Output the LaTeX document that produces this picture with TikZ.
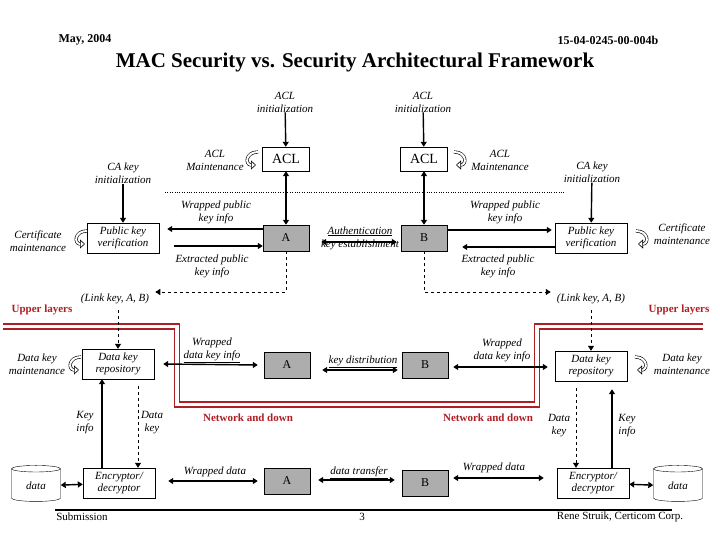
\documentclass[tikz,border=0pt]{standalone}
\usepackage{fontspec}
\setmainfont{Liberation Serif}
\usetikzlibrary{arrows.meta,shapes.geometric}
\definecolor{darkred}{RGB}{175,30,35}
\tikzset{
    box/.style={draw, rectangle, minimum width=72, minimum height=30, inner sep=1pt,
        font=\fontsize{11}{12}\selectfont\itshape, align=center},
    gbox/.style={draw, rectangle, fill=black!32, minimum width=46, minimum height=26,
        font=\fontsize{12}{12}\selectfont},
    aclbox/.style={draw, rectangle, minimum width=47, minimum height=24,
        font=\fontsize{14}{14}\selectfont},
    lbl/.style={font=\fontsize{11}{13}\selectfont\itshape, align=center, inner sep=0pt},
    redlbl/.style={font=\fontsize{11}{13}\selectfont\bfseries, text=darkred, inner sep=0pt},
    foot/.style={font=\fontsize{11}{13}\selectfont, inner sep=0pt},
    arr/.style={line width=1.4pt, -{Triangle[length=5pt,width=6pt]}},
    darr/.style={line width=1.4pt, {Triangle[length=5pt,width=6pt]}-{Triangle[length=5pt,width=6pt]}},
    dasharr/.style={line width=1pt, dashed, -{Triangle[length=5pt,width=6pt]}},
    drum/.style={draw, cylinder, shape border rotate=90, aspect=0.25,
        minimum width=49, minimum height=36, font=\fontsize{11}{12}\selectfont\itshape},
    maintL/.pic={\draw[double distance=2pt, line width=0.6pt, -{Triangle[open,length=5pt,width=9pt]}]
        (7,-7) .. controls (-6,-7) and (-6,6) .. (5,6);},
    maintR/.pic={\draw[double distance=2pt, line width=0.6pt, -{Triangle[open,length=5pt,width=9pt]}]
        (-7,-7) .. controls (6,-7) and (6,6) .. (-5,6);}
}

\begin{document}
\begin{tikzpicture}[x=1pt,y=-1pt]
    \useasboundingbox (0,0) rectangle (720,540);

    % Header and title.
    \node[font=\fontsize{12}{12}\selectfont\bfseries] (date) at (85,40) {May, 2004};
    \node[font=\fontsize{12}{12}\selectfont\bfseries] (docnum) at (608,40) {15-04-0245-00-004b};
    \node[font=\fontsize{21}{22}\selectfont\bfseries] (title) at (355,62)
        {MAC Security vs. Security Architectural Framework};

    % ACL part.
    \node[lbl] (aclinitA) at (285,102) {ACL\\initialization};
    \node[lbl] (aclinitB) at (423,102) {ACL\\initialization};
    \node[aclbox] (aclA) at (286,159) {ACL};
    \node[aclbox] (aclB) at (424,159) {ACL};
    \node[lbl] (aclmaintA) at (215,160) {ACL\\Maintenance};
    \node[lbl] (aclmaintB) at (500,160) {ACL\\Maintenance};
    \pic at (251,159) {maintL};
    \pic at (461,159) {maintR};
    \draw[arr] (aclinitA) -- (aclA);
    \draw[arr] (aclinitB) -- (aclB);
    \draw[dotted] (165,192) -- (565,192);

    % Public key part.
    \node[gbox] (keyA) at (286,238) {A};
    \node[gbox] (keyB) at (424,238) {B};
    \draw[darr] (aclA) -- (keyA);
    \draw[darr] (aclB) -- (keyB);
    \node[box] (pkA) at (123,238) {Public key\\verification};
    \node[box] (pkB) at (591,238) {Public key\\verification};
    \node[lbl] (cainitA) at (123,173) {CA key\\initialization};
    \node[lbl] (cainitB) at (592,172) {CA key\\initialization};
    \draw[arr] (cainitA) -- (pkA);
    \draw[arr] (cainitB) -- (pkB);
    \node[lbl] (certA) at (38,241) {Certificate\\maintenance};
    \node[lbl] (certB) at (682,234) {Certificate\\maintenance};
    \pic at (80,238) {maintL};
    \pic at (643,238) {maintR};
    \draw[arr] (keyA.west |- 0,229) -- ([xshift=8]pkA.east |- 0,229);
    \draw[arr] ([xshift=15]pkA.east |- 0,246) -- (keyA.west |- 0,246);
    \draw[arr] (keyB.east |- 0,230) -- ([xshift=-3]pkB.west |- 0,230);
    \draw[arr] (pkB.west |- 0,247) -- ([xshift=15]keyB.east |- 0,247);
    \node[lbl] (wpkA) at (216,212) {Wrapped public\\key info};
    \node[lbl] (epkA) at (212,266) {Extracted public\\key info};
    \node[lbl] (wpkB) at (505,212) {Wrapped public\\key info};
    \node[lbl] (epkB) at (498,266) {Extracted public\\key info};
    \node[lbl] (auth) at (360,238) {\underline{Authentication}\\key establishment};
    \draw[darr] ([xshift=12]keyA.east |- 0,242) -- ([xshift=-4]keyB.west |- 0,242);
    \node[lbl] (linkA) at (115,299) {(Link key, \textit{A}, \textit{B})};
    \node[lbl] (linkB) at (591,299) {(Link key, \textit{A}, \textit{B})};
    \draw[dasharr] (keyA.south) |- ([xshift=6]linkA.east |- 0,292);
    \draw[dasharr] (keyB.south) |- ([xshift=-6]linkB.west |- 0,292);
    \node[redlbl] (upperA) at (42,310) {Upper layers};
    \node[redlbl] (upperB) at (679,310) {Upper layers};

    % Layer boundary.
    \draw[darkred, line width=1.6pt, double=white, double distance=3.5pt]
        (3,326.5) -- (177,326.5) -- (177,404.5) -- (537,404.5) -- (537,326.5) -- (703,326.5);
    \node[redlbl] (netA) at (248,418) {Network and down};
    \node[redlbl] (netB) at (488,418) {Network and down};

    % Data key part.
    \node[box] (repA) at (118,364) {Data key\\repository};
    \node[box] (repB) at (591,366) {Data key\\repository};
    \draw[dasharr] ([yshift=-6]repA.north |- linkA.south) -- (repA.north);
    \draw[dasharr] ([yshift=-6]repB.north |- linkB.south) -- (repB.north);
    \node[lbl] (dkmA) at (37,364) {Data key\\maintenance};
    \node[lbl] (dkmB) at (682,364) {Data key\\maintenance};
    \pic at (74,364) {maintL};
    \pic at (642,364) {maintR};
    \node[gbox] (distA) at (287,365) {A};
    \node[gbox] (distB) at (425,365) {B};
    \node[lbl] (wdkA) at (212,350) {Wrapped\\\underline{data key info}};
    \node[lbl] (wdkB) at (502,350) {Wrapped\\data key info};
    \draw[darr] ([xshift=9]repA.east) -- ([xshift=-6]distA.west);
    \draw[darr] ([xshift=5]distB.east |- 0,367) -- ([xshift=-7]repB.west |- 0,367);
    \node[lbl] (kdist) at (363,362) {\underline{key distribution}};
    \draw[darr] ([xshift=12]distA.east |- 0,370) -- ([xshift=-4]distB.west |- 0,370);

    % Data part.
    \node[box] (encA) at (119,483) {Encryptor/\\decryptor};
    \node[box] (encB) at (593,483) {Encryptor/\\decryptor};
    \node[drum] (dataA) at (36,486) {data};
    \node[drum] (dataB) at (678,486) {data};
    \draw[darr] (dataA) -- (encA);
    \draw[darr] (encB) -- (dataB);
    \draw[arr] (encA.north -| 102,0) -- (repA.south -| 102,0);
    \draw[dasharr] ([yshift=-7]repA.south -| 138,0) -- (encA.north -| 138,0);
    \draw[arr] (encB.north -| 612,0) -- ([yshift=-8]repB.south -| 612,0);
    \draw[dasharr] ([yshift=-7]repB.south -| 576,0) -- (encB.north -| 576,0);
    \node[lbl] (kinfoA) at (85,423) {Key\\info};
    \node[lbl] (dkeyA) at (152,423) {Data\\key};
    \node[lbl] (dkeyB) at (559,426) {Data\\key};
    \node[lbl] (kinfoB) at (627,426) {Key\\info};
    \node[gbox] (xferA) at (287,481) {A};
    \node[gbox] (xferB) at (425,483) {B};
    \node[lbl] (wdA) at (215,472) {Wrapped data};
    \node[lbl] (wdB) at (494,468) {Wrapped data};
    \draw[darr] ([xshift=13]encA.east |- 0,481) -- ([xshift=-6]xferA.west);
    \draw[darr] ([xshift=5]xferB.east |- 0,478) -- ([xshift=-13]encB.west |- 0,478);
    \node[lbl] (xfer) at (359,473) {\underline{data transfer}};
    \draw[darr] ([xshift=8]xferA.east |- 0,480) -- ([xshift=-7]xferB.west |- 0,480);

    % Footer.
    \draw[line width=1.2pt] (55,510) -- (672,510);
    \node[foot] (sub) at (82,517) {Submission};
    \node[foot] (page) at (362,517) {3};
    \node[foot] (author) at (620,517) {Rene Struik, Certicom Corp.};
\end{tikzpicture}
\end{document}
